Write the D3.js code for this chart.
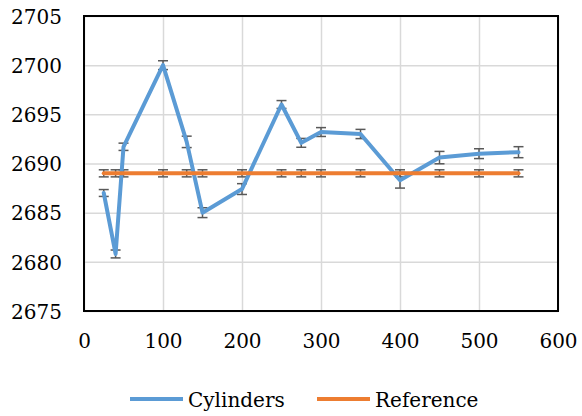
<!DOCTYPE html>
<html><head><meta charset="utf-8">
<script src="https://cdn.jsdelivr.net/npm/d3@7"></script>
<style>html,body{margin:0;padding:0;background:#fff;}svg{display:block;}</style>
</head><body>
<script>
const xValues = [25, 40, 50, 100, 130, 150, 200, 250, 275, 300, 350, 400, 450, 500, 550];
const cylinders = [2687.0, 2680.8, 2691.7, 2700.0, 2692.2, 2685.0, 2687.4, 2696.0, 2692.1, 2693.2, 2693.0, 2688.3, 2690.6, 2691.0, 2691.15];
const cylErr = [0.35, 0.4, 0.37, 0.45, 0.58, 0.5, 0.55, 0.4, 0.45, 0.45, 0.47, 0.8, 0.63, 0.5, 0.56];
const reference = [2689, 2689, 2689, 2689, 2689, 2689, 2689, 2689, 2689, 2689, 2689, 2689, 2689, 2689, 2689];
const refErr = [0.36, 0.36, 0.36, 0.36, 0.36, 0.36, 0.36, 0.36, 0.36, 0.36, 0.36, 0.36, 0.36, 0.36, 0.36];
const xTicks = [0, 100, 200, 300, 400, 500, 600];
const yTicks = [2675, 2680, 2685, 2690, 2695, 2700, 2705];
const seriesNames = ["Cylinders", "Reference"];
const seriesColors = ["#5B9BD5", "#ED7D31"];

(function () {
const W = 582, H = 416;
const pL = 84, pR = 558, pT = 16, pB = 311;
const font = "'DejaVu Serif', Georgia, serif";
const fs = 20;

const svg = d3.select("body").append("svg").attr("width", W).attr("height", H);
const x = d3.scaleLinear().domain([0, 600]).range([pL, pR]);
const y = d3.scaleLinear().domain([2675, 2705]).range([pB, pT]);

// gridlines
const gx = svg.append("g").attr("transform", `translate(0,${pB})`)
  .call(d3.axisBottom(x).tickValues(xTicks).tickSize(-(pB - pT)).tickFormat(""));
gx.select(".domain").remove();
gx.selectAll("line").attr("stroke", "#d9d9d9").attr("stroke-width", 1.5);
const gy = svg.append("g").attr("transform", `translate(${pL},0)`)
  .call(d3.axisLeft(y).tickValues(yTicks).tickSize(-(pR - pL)).tickFormat(""));
gy.select(".domain").remove();
gy.selectAll("line").attr("stroke", "#d9d9d9").attr("stroke-width", 1.5);

// frame
svg.append("rect").attr("x", pL).attr("y", pT).attr("width", pR - pL).attr("height", pB - pT)
  .attr("fill", "none").attr("stroke", "#000").attr("stroke-width", 2);

// tick labels
const ax = svg.append("g").attr("transform", `translate(0,${pB})`)
  .call(d3.axisBottom(x).tickValues(xTicks).tickSize(0).tickPadding(0).tickFormat(d3.format("d")));
ax.select(".domain").remove();
ax.selectAll("text").attr("y", 37).attr("dy", null).attr("font-family", font).attr("font-size", fs).attr("fill", "#000");
const ay = svg.append("g").attr("transform", `translate(${pL},0)`)
  .call(d3.axisLeft(y).tickValues(yTicks).tickSize(0).tickPadding(0).tickFormat(d3.format("d")));
ay.select(".domain").remove();
ay.selectAll("text").attr("x", -22).attr("dy", "0.36em").attr("font-family", font).attr("font-size", fs).attr("fill", "#000");

const line = d3.line().x(d => x(d[0])).y(d => y(d[1]));
const series = [[cylinders, cylErr], [reference, refErr]].map(([vals, errs]) =>
  xValues.map((xv, i) => [xv, vals[i], errs[i]]));

// error bars (under lines)
series.forEach(pts => {
  const eb = svg.append("g").selectAll("g").data(pts).join("g")
    .attr("stroke", "#595959").attr("stroke-width", 1.5);
  eb.append("line").attr("x1", d => x(d[0])).attr("x2", d => x(d[0]))
    .attr("y1", d => y(d[1] - d[2])).attr("y2", d => y(d[1] + d[2]));
  eb.append("line").attr("x1", d => x(d[0]) - 5).attr("x2", d => x(d[0]) + 5)
    .attr("y1", d => y(d[1] - d[2])).attr("y2", d => y(d[1] - d[2]));
  eb.append("line").attr("x1", d => x(d[0]) - 5).attr("x2", d => x(d[0]) + 5)
    .attr("y1", d => y(d[1] + d[2])).attr("y2", d => y(d[1] + d[2]));
});
series.forEach((pts, i) => {
  svg.append("path").datum(pts).attr("d", line).attr("fill", "none")
    .attr("stroke", seriesColors[i]).attr("stroke-width", 4)
    .attr("stroke-linejoin", "round").attr("stroke-linecap", "round");
});

// legend
const legendX = [130, 317];
const lg = svg.append("g");
seriesNames.forEach((name, i) => {
  lg.append("line").attr("x1", legendX[i]).attr("x2", legendX[i] + 53)
    .attr("y1", 399).attr("y2", 399).attr("stroke", seriesColors[i]).attr("stroke-width", 4);
  lg.append("text").attr("x", legendX[i] + 58).attr("y", 407).attr("font-family", font)
    .attr("font-size", fs).attr("fill", "#000").text(name);
});
})();
</script>
</body></html>
